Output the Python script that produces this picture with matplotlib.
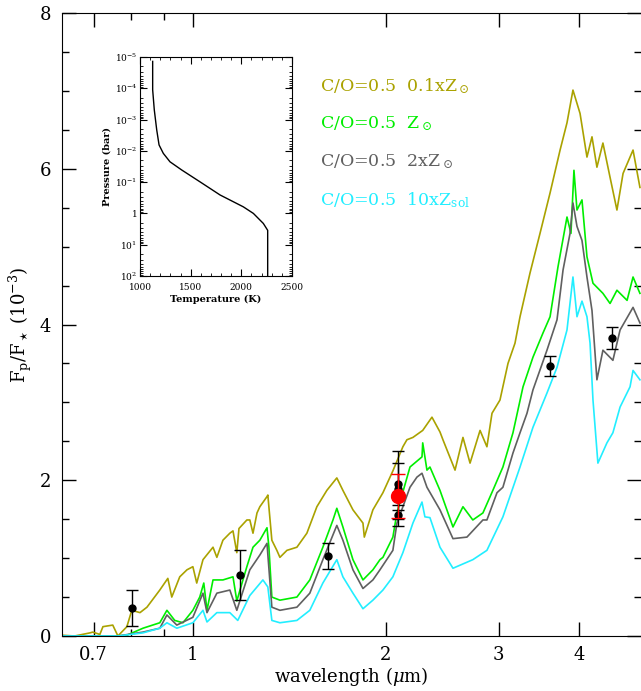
import matplotlib
matplotlib.use("Agg")
import matplotlib.pyplot as plt
from matplotlib.ticker import FixedLocator, FixedFormatter, LogLocator, NullFormatter, MultipleLocator

plt.rcParams['font.family'] = ['DejaVu Serif']
plt.rcParams['mathtext.fontset'] = 'dejavuserif'

# model spectra, Fp/F* in units of 1e-3, wavelength in micron
lam_01 = [0.625, 0.654, 0.691, 0.698, 0.716, 0.724, 0.750, 0.764, 0.789, 0.803, 0.827, 0.848,
          0.888, 0.914, 0.927, 0.954, 0.979, 1.000, 1.014, 1.037, 1.075, 1.090, 1.114, 1.142,
          1.155, 1.171, 1.180, 1.214, 1.227, 1.241, 1.259, 1.272, 1.305, 1.309, 1.328, 1.352,
          1.367, 1.402, 1.453, 1.506, 1.561, 1.618, 1.677, 1.714, 1.777, 1.842, 1.851, 1.909,
          1.979, 2.051, 2.126, 2.157, 2.204, 2.283, 2.360, 2.429, 2.455, 2.564, 2.638, 2.706,
          2.805, 2.875, 2.928, 3.013, 3.101, 3.180, 3.238, 3.356, 3.479, 3.607, 3.739, 3.833,
          3.916, 4.017, 4.118, 4.193, 4.268, 4.361, 4.474, 4.586, 4.688, 4.859, 4.981]
f_01 = [0.01, 0.00, 0.04, 0.05, 0.02, 0.12, 0.14, 0.00, 0.12, 0.33, 0.30, 0.37,
        0.59, 0.74, 0.50, 0.76, 0.85, 0.89, 0.68, 0.98, 1.14, 1.01, 1.23, 1.32,
        1.35, 1.07, 1.38, 1.49, 1.49, 1.32, 1.58, 1.66, 1.79, 1.81, 1.23, 1.10,
        1.01, 1.10, 1.14, 1.32, 1.66, 1.87, 2.03, 1.87, 1.62, 1.45, 1.27, 1.62,
        1.84, 2.12, 2.43, 2.52, 2.55, 2.64, 2.81, 2.62, 2.52, 2.13, 2.55, 2.22,
        2.64, 2.43, 2.86, 3.03, 3.50, 3.76, 4.10, 4.66, 5.17, 5.69, 6.24, 6.59,
        7.01, 6.71, 6.15, 6.41, 6.02, 6.33, 5.89, 5.47, 5.94, 6.24, 5.76]

lam_1 = [0.625, 0.700, 0.764, 0.789, 0.836, 0.888, 0.911, 0.937, 0.965, 1.000, 1.025, 1.040,
         1.052, 1.075, 1.114, 1.155, 1.171, 1.197, 1.214, 1.241, 1.272, 1.305, 1.314, 1.328,
         1.367, 1.453, 1.522, 1.595, 1.654, 1.677, 1.714, 1.777, 1.842, 1.909, 1.958, 1.979,
         2.051, 2.081, 2.181, 2.277, 2.283, 2.318, 2.343, 2.429, 2.545, 2.638, 2.733, 2.834,
         2.937, 3.045, 3.157, 3.273, 3.392, 3.516, 3.607, 3.711, 3.833, 3.888, 3.930, 3.973,
         4.045, 4.118, 4.208, 4.361, 4.474, 4.586, 4.756, 4.859, 4.981]
f_1 = [0.00, 0.00, 0.00, 0.01, 0.10, 0.17, 0.33, 0.20, 0.17, 0.33, 0.50, 0.68,
       0.33, 0.72, 0.72, 0.76, 0.45, 0.72, 0.89, 1.14, 1.23, 1.39, 1.14, 0.50,
       0.46, 0.50, 0.72, 1.14, 1.49, 1.64, 1.40, 0.98, 0.72, 0.85, 0.98, 1.01,
       1.27, 1.58, 2.17, 2.30, 2.48, 2.13, 2.17, 1.87, 1.40, 1.66, 1.49, 1.58,
       1.87, 2.17, 2.61, 3.20, 3.58, 3.89, 4.10, 4.74, 5.38, 5.17, 5.98, 5.47,
       5.60, 4.87, 4.53, 4.40, 4.27, 4.44, 4.31, 4.61, 4.40]

lam_2 = [0.625, 0.700, 0.764, 0.836, 0.888, 0.911, 0.944, 1.000, 1.037, 1.052, 1.090, 1.142,
         1.171, 1.227, 1.272, 1.305, 1.328, 1.367, 1.453, 1.522, 1.595, 1.677, 1.714, 1.777,
         1.842, 1.909, 1.958, 2.051, 2.081, 2.181, 2.236, 2.277, 2.318, 2.429, 2.545, 2.676,
         2.834, 2.875, 2.981, 3.045, 3.157, 3.238, 3.320, 3.392, 3.567, 3.698, 3.779, 3.875,
         3.916, 3.973, 4.045, 4.118, 4.193, 4.268, 4.361, 4.520, 4.638, 4.859, 4.981]
f_2 = [0.00, 0.00, 0.00, 0.05, 0.10, 0.27, 0.14, 0.24, 0.55, 0.30, 0.55, 0.59,
       0.33, 0.85, 1.04, 1.19, 0.37, 0.33, 0.37, 0.55, 0.98, 1.42, 1.23, 0.85,
       0.61, 0.72, 0.85, 1.10, 1.45, 1.91, 2.04, 2.09, 1.91, 1.62, 1.25, 1.27,
       1.49, 1.49, 1.84, 1.91, 2.35, 2.61, 2.86, 3.16, 3.67, 4.06, 4.70, 5.17,
       5.56, 5.26, 5.08, 4.61, 4.18, 3.29, 3.67, 3.54, 3.93, 4.22, 4.02]

lam_10 = [0.625, 0.764, 0.836, 0.888, 0.911, 0.944, 1.000, 1.037, 1.052, 1.090, 1.142, 1.175,
          1.227, 1.286, 1.309, 1.328, 1.367, 1.453, 1.522, 1.595, 1.677, 1.714, 1.777, 1.842,
          1.909, 1.979, 2.051, 2.126, 2.204, 2.277, 2.301, 2.343, 2.429, 2.545, 2.733, 2.875,
          3.045, 3.238, 3.392, 3.567, 3.698, 3.833, 3.916, 3.973, 4.045, 4.118, 4.164, 4.208,
          4.283, 4.424, 4.520, 4.638, 4.807, 4.859, 4.981]
f_10 = [0.00, 0.00, 0.04, 0.10, 0.17, 0.10, 0.17, 0.33, 0.18, 0.30, 0.30, 0.20,
        0.52, 0.72, 0.63, 0.20, 0.17, 0.20, 0.33, 0.68, 0.98, 0.76, 0.55, 0.35,
        0.46, 0.59, 0.76, 1.07, 1.45, 1.72, 1.53, 1.52, 1.14, 0.87, 0.98, 1.10,
        1.53, 2.17, 2.68, 3.12, 3.45, 3.93, 4.61, 4.10, 4.30, 4.10, 3.76, 3.03,
        2.22, 2.48, 2.61, 2.94, 3.20, 3.41, 3.29]

# observed eclipse depths
obs_lam = [0.803, 1.184, 1.624, 2.09, 2.09, 2.09, 3.606, 4.505]
obs_f = [0.36, 0.78, 1.03, 1.89, 1.95, 1.56, 3.47, 3.83]
obs_err = [0.23, 0.32, 0.17, 0.48, 0.27, 0.06, 0.13, 0.14]
red_lam = [2.09]
red_f = [1.80]
red_err = [0.28]

# T-P profile for the inset
tp_T = [1125, 1125, 1141, 1165, 1188, 1230, 1296, 1411, 1592, 1790, 2020, 2119, 2217, 2260, 2260]
tp_logP = [-4.86, -3.95, -3.31, -2.67, -2.19, -1.92, -1.65, -1.39, -1.01, -0.59, -0.21, 0.0, 0.32, 0.54, 2.0]

labels = [r'C/O=0.5  0.1xZ$_\odot$', r'C/O=0.5  Z$_\odot$', r'C/O=0.5  2xZ$_\odot$', r'C/O=0.5  10xZ$_{\rm sol}$']
colors = ['#aaa200', '#00ee00', '#606060', '#22eeff']

fig = plt.figure(figsize=(6.41, 6.91), dpi=100)
ax = fig.add_axes([62/641, 55/691, 579/641, 623/691])

for lam, f, c in zip([lam_01, lam_1, lam_2, lam_10], [f_01, f_1, f_2, f_10], colors):
    ax.plot(lam, f, color=c, lw=1.2)

ax.errorbar(obs_lam, obs_f, yerr=obs_err, fmt='o', color='black', ms=5, capsize=4, elinewidth=1, zorder=5)
ax.errorbar(red_lam, red_f, yerr=red_err, fmt='o', color='red', ms=10, capsize=5, elinewidth=1, zorder=6)

ax.set_xscale('log')
ax.set_xlim(0.625, 5.0)
ax.set_ylim(0, 8)
ax.xaxis.set_major_locator(FixedLocator([0.7, 1, 2, 3, 4]))
ax.xaxis.set_major_formatter(FixedFormatter(['0.7', '1', '2', '3', '4']))
ax.xaxis.set_minor_locator(FixedLocator([0.8, 0.9]))
ax.xaxis.set_minor_formatter(NullFormatter())
ax.yaxis.set_major_locator(MultipleLocator(2))
ax.yaxis.set_minor_locator(MultipleLocator(0.5))
ax.tick_params(which='both', direction='in', top=True, right=True, labelsize=13)
ax.tick_params(axis='x', pad=7)
ax.tick_params(axis='y', pad=8)
ax.tick_params(which='major', length=10, width=1)
ax.tick_params(which='minor', length=5, width=1)
ax.spines['right'].set_visible(False)
ax.set_xlabel(r'wavelength ($\mu$m)', fontsize=13, labelpad=1)
ax.set_ylabel(r'F$_{\rm p}$/F$_\star$ (10$^{-3}$)', fontsize=13, labelpad=4)

for i, (txt, c) in enumerate(zip(labels, colors)):
    ax.text(0.4456, 0.8828 - 0.061 * i, txt, color=c, fontsize=12.5, va='center', transform=ax.transAxes)

# inset with the temperature-pressure profile
ins = fig.add_axes([140/641, 415/691, 152/641, 219/691])
ins.plot(tp_T, [10**p for p in tp_logP], color='black', lw=1)
ins.set_yscale('log')
ins.set_xlim(1000, 2500)
ins.set_ylim(1e2, 1e-5)
ins.xaxis.set_major_locator(FixedLocator([1000, 1500, 2000, 2500]))
ins.xaxis.set_minor_locator(MultipleLocator(100))
ins.yaxis.set_major_locator(FixedLocator([1e-5, 1e-4, 1e-3, 1e-2, 1e-1, 1, 10, 100]))
ins.yaxis.set_major_formatter(FixedFormatter([r'10$^{-5}$', r'10$^{-4}$', r'10$^{-3}$', r'10$^{-2}$',
                                              r'10$^{-1}$', '1', r'10$^{1}$', r'10$^{2}$']))
ins.yaxis.set_minor_locator(LogLocator(base=10, subs=range(2, 10), numticks=20))
ins.yaxis.set_minor_formatter(NullFormatter())
ins.tick_params(which='both', direction='in', top=True, right=True, labelsize=6.5)
ins.tick_params(axis='x', pad=5)
ins.tick_params(axis='y', pad=2)
ins.tick_params(which='major', length=5)
ins.tick_params(which='minor', length=2.5)
ins.set_xlabel('Temperature (K)', fontsize=7, fontweight='bold', labelpad=2)
ins.set_ylabel('Pressure (bar)', fontsize=7, fontweight='bold', labelpad=2)

fig.savefig('out.png', dpi=100)
